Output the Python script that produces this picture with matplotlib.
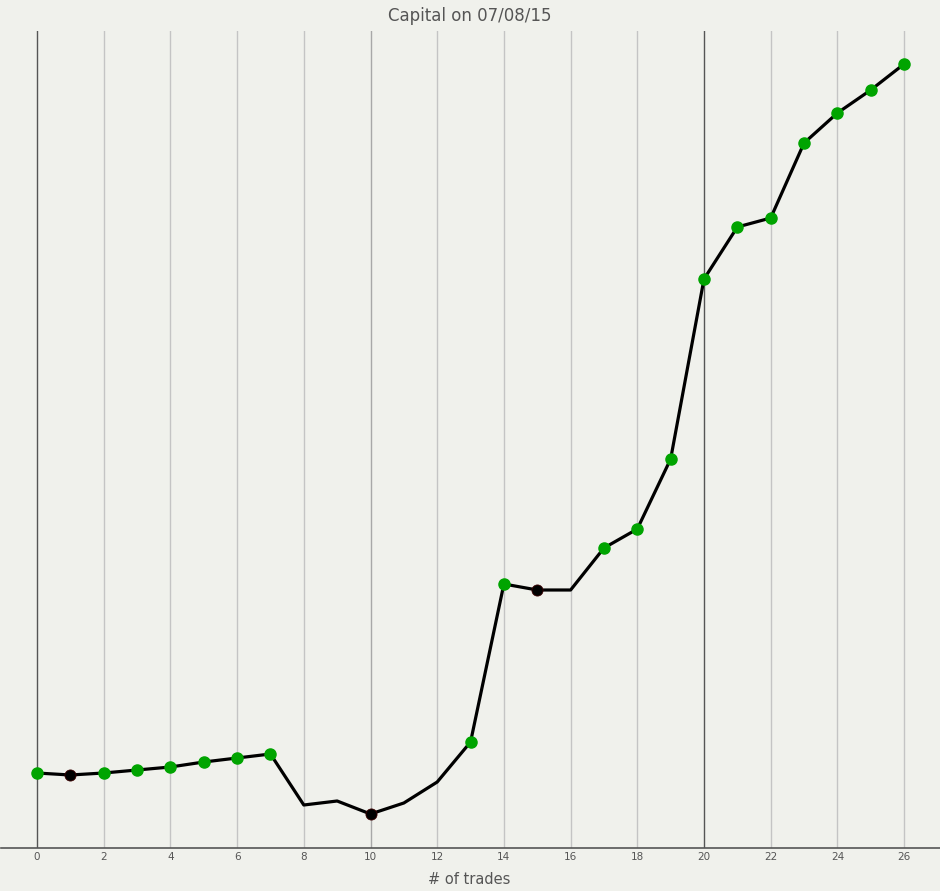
import matplotlib
matplotlib.use("Agg")
import matplotlib.pyplot as plt

trades = list(range(27))
capital = [75, 73, 75, 78, 81, 86, 90, 94, 43, 47, 34, 45, 66, 106, 264, 258, 258,
           300, 319, 389, 569, 621, 630, 705, 735, 758, 784]
# marker kind: 'g' win, 'b' loss, '' none
markers = ['g', 'b', 'g', 'g', 'g', 'g', 'g', 'g', '', '', 'b', '', '', 'g', 'g', 'b', '',
           'g', 'g', 'g', 'g', 'g', 'g', 'g', 'g', 'g', 'g']
xticks = list(range(0, 27, 2))

bg = '#f0f1ec'
fig = plt.figure(figsize=(9.4, 8.91), dpi=100, facecolor=bg)
ax = fig.add_axes([1/940, (891-848)/891, 939/940, (848-31)/891], facecolor=bg)

ax.set_xlim((1-37)/33.35, (940-37)/33.35)
ax.set_ylim(0, 817)

for t in xticks:
    if t in (0, 20):
        c, lw = '#555555', 1.0
    elif t == 10:
        c, lw = '#a8a8a8', 1.0
    else:
        c, lw = '#c4c4c4', 1.0
    ax.axvline(t, color=c, lw=lw, zorder=1)

ax.plot(trades, capital, color='black', lw=2.3, zorder=2, solid_joinstyle='round')
gx = [t for t, m in zip(trades, markers) if m == 'g']
gy = [c for c, m in zip(capital, markers) if m == 'g']
bx = [t for t, m in zip(trades, markers) if m == 'b']
by = [c for c, m in zip(capital, markers) if m == 'b']
ax.plot(gx, gy, 'o', color='#00a400', ms=8, mec='#00a400', zorder=3)
ax.plot(bx, by, 'o', color='black', ms=8, mec='#3a0000', mew=0.6, zorder=3)

for s in ['top', 'left', 'right']:
    ax.spines[s].set_visible(False)
ax.spines['bottom'].set_color('#555555')
ax.spines['bottom'].set_linewidth(1.2)

ax.set_xticks(xticks)
ax.set_xticklabels([str(t) for t in xticks], fontsize=7.5, color='#555555', family='DejaVu Sans')
ax.tick_params(axis='x', length=0, pad=3)
ax.set_yticks([])

fig.text(470/940, 1 - 16/891, 'Capital on 07/08/15', ha='center', va='center',
         fontsize=12, color='#555555', family='DejaVu Sans')
fig.text(469/940, 1 - 880/891, '# of trades', ha='center', va='center',
         fontsize=10.5, color='#555555', family='DejaVu Sans')

fig.savefig('out.png', dpi=100, facecolor=bg)
